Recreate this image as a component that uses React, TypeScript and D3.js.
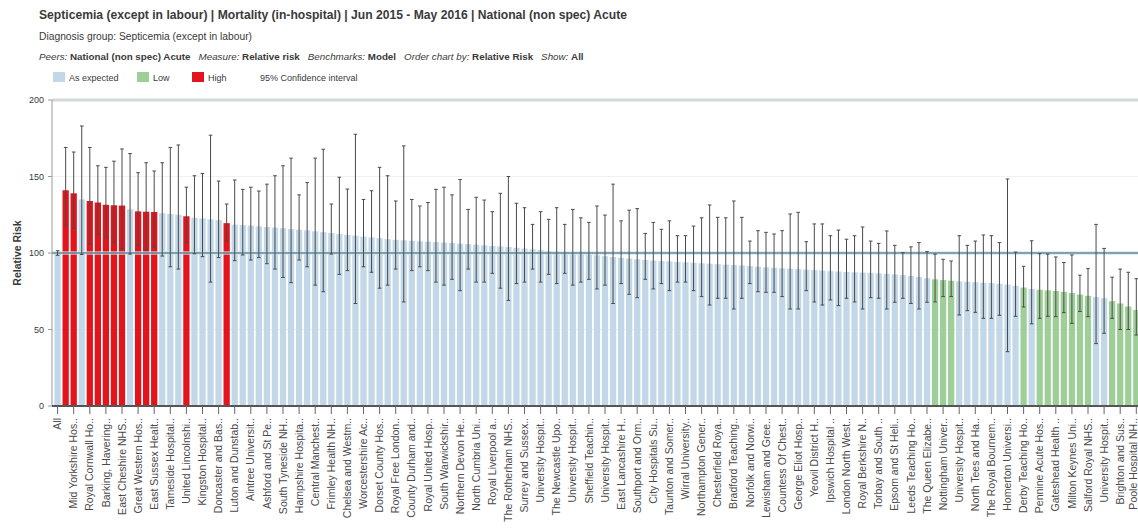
import React from 'react';
import * as d3 from 'd3';

const W = 1138;
const H = 529;

const titleText = 'Septicemia (except in labour) | Mortality (in-hospital) | Jun 2015 - May 2016 | National (non spec) Acute';
const subtitleText = 'Diagnosis group: Septicemia (except in labour)';
const filterParts: [string, string][] = [
  ['Peers: ', 'National (non spec) Acute'],
  ['Measure: ', 'Relative risk'],
  ['Benchmarks: ', 'Model'],
  ['Order chart by: ', 'Relative Risk'],
  ['Show: ', 'All'],
];
const legendItems = ['As expected', 'Low', 'High'];
const yTicks = [0, 50, 100, 150, 200];

const tickLabels = [
  'All', 'Mid Yorkshire Hos..', 'Royal Cornwall Ho..', 'Barking, Havering..', 'East Cheshire NHS..',
  'Great Western Hos..', 'East Sussex Healt..', 'Tameside Hospital..', 'United Lincolnshi..', 'Kingston Hospital..',
  'Doncaster and Bas..', 'Luton and Dunstab..', 'Aintree Universit..', 'Ashford and St Pe..', 'South Tyneside NH..',
  'Hampshire Hospita..', 'Central Manchest..', 'Frimley Health NH..', 'Chelsea and Westm..', 'Worcestershire Ac..',
  'Dorset County Hos..', 'Royal Free London..', 'County Durham and..', 'Royal United Hosp..', 'South Warwickshir..',
  'Northern Devon He..', 'North Cumbria Uni..', 'Royal Liverpool a..', 'The Rotherham NHS..', 'Surrey and Sussex..',
  'University Hospit..', 'The Newcastle Upo..', 'University Hospit..', 'Sheffield Teachin..', 'University Hospit..',
  'East Lancashire H..', 'Southport and Orm..', 'City Hospitals Su..', 'Taunton and Somer..', 'Wirral University..',
  'Northampton Gener..', 'Chesterfield Roya..', 'Bradford Teaching..', 'Norfolk and Norwi..', 'Lewisham and Gree..',
  'Countess Of Chest..', 'George Eliot Hosp..', 'Yeovil District H..', 'Ipswich Hospital ..', 'London North West..',
  'Royal Berkshire N..', 'Torbay and South ..', 'Epsom and St Heli..', 'Leeds Teaching Ho..', 'The Queen Elizabe..',
  'Nottingham Univer..', 'University Hospit..', 'North Tees and Ha..', 'The Royal Bournem..', 'Homerton Universi..',
  'Derby Teaching Ho..', 'Pennine Acute Hos..', 'Gateshead Health ..', 'Milton Keynes Uni..', 'Salford Royal NHS..',
  'University Hospit..', 'Brighton and Sus..', 'Poole Hospital NH..',
];

const relRisk = [
  100, 141, 139, 135, 134, 133, 131.5, 131.2, 131, 128.5,
  127.2, 127, 126.8, 126, 125.5, 125, 124, 123, 122.6, 122,
  121.5, 119.5, 118.5, 118.2, 117.9, 117.4, 117, 116.6, 116.2, 115.6,
  115.2, 114.8, 114.2, 113.6, 113, 112.4, 111.8, 111.3, 110.7, 110.2,
  109.6, 109, 108.6, 108.3, 108, 107.6, 107.4, 107.1, 106.8, 106.5,
  106.1, 105.8, 105.4, 105, 104.6, 104.3, 103.9, 103.4, 102.9, 102.4,
  101.9, 101.4, 100.9, 100.5, 100.1, 99.6, 99.1, 98.5, 97.9, 97.4,
  96.9, 96.4, 95.9, 95.5, 95.1, 94.8, 94.5, 94.2, 93.9, 93.6,
  93.3, 93, 92.7, 92.4, 92.1, 91.8, 91.4, 91, 90.6, 90.3,
  90, 89.7, 89.4, 89.1, 88.8, 88.5, 88.2, 87.9, 87.6, 87.4,
  87.2, 87, 86.7, 86.4, 86, 85.6, 85, 84.3, 83.5, 82.8,
  82.3, 81.9, 81.5, 81.2, 80.9, 80.6, 80.3, 79.9, 79.4, 78.6,
  77.4, 76.5, 76, 75.6, 75.2, 74.6, 73.8, 72.8, 72, 71.2,
  70.4, 68.5, 67, 65, 62.8,
];

const ciUpper = [
  101.5, 169, 166, 183, 169, 157, 156, 160, 168, 165,
  152.5, 159, 153.6, 159, 169, 170.6, 143, 150.5, 152, 177,
  147, 132, 147.7, 141.6, 143, 140.5, 145, 150.5, 157, 162,
  138, 146, 162, 167.8, 132, 149.5, 141.8, 177.6, 135, 140.7,
  156, 150.5, 134, 170, 135, 130.7, 133, 141.6, 143, 138,
  148, 128.5, 136.4, 134.6, 127, 139, 150, 132.5, 129.6, 118.7,
  127, 122, 129.6, 118.7, 128.5, 123, 120, 130.7, 124.8, 145,
  121, 128, 129, 112.8, 120, 115.5, 121, 111.3, 111.3, 117.6,
  123, 131.4, 123.3, 123, 134, 123.3, 107.8, 114.6, 113.5, 112.4,
  114.6, 125.5, 126.6, 107.4, 119, 119, 111.3, 115, 109, 111.3,
  117, 107.8, 106.3, 114.4, 105, 100.2, 104, 106.8, 100.9, 99.3,
  95.9, 94.8, 111.3, 105, 107.8, 111.8, 111.3, 106.8, 148.4, 100.6,
  91.3, 108, 99.6, 99.3, 97.4, 93.8, 98.7, 85.5, 89.8, 118.7,
  103, 84.2, 89.5, 87.4, 83.2,
];

const ciLower = [
  98.5, 118, 116, 99, 106, 112, 110, 107, 103, 99.3,
  105, 102, 104, 98, 91, 89.5, 107, 99.5, 97.6, 81,
  97, 108, 95, 98.7, 95.4, 97, 93, 89.5, 84, 80.6,
  95.4, 91, 79, 74.7, 99.3, 86, 88.5, 67, 91, 87.4,
  77, 79, 89.5, 68, 88.5, 91, 88.5, 81, 79, 82.8,
  75.4, 89.5, 81, 81, 86.7, 77, 69, 80, 81, 89.5,
  81, 86, 80, 86.7, 79, 81, 82.8, 76.5, 79, 67,
  80, 73, 70.8, 82.8, 76.5, 80, 75.4, 81, 81, 75.4,
  71.5, 66, 70.4, 70.4, 63.4, 70.4, 80, 74.7, 74.3, 74.3,
  71.5, 63.4, 63.4, 75.4, 68, 66, 69.3, 65.6, 70.4, 68,
  63.4, 70.8, 70.4, 63.4, 67.8, 70.4, 67, 63.4, 67.8, 68,
  71.5, 71.5, 59.5, 62.3, 61.2, 57.3, 57.3, 59.3, 35.5, 58.6,
  64.7, 53.7, 57.3, 58.6, 58.4, 61, 54, 61.8, 58.4, 40.8,
  47.5, 57.3, 50, 50, 46.4,
];

const highIdx = [1, 2, 4, 5, 6, 7, 8, 10, 11, 12, 16, 21];
const lowIdx = [109, 110, 111, 120, 122, 123, 124, 125, 126, 127, 128, 131, 132, 133, 134];

const colors = {
  expected: '#c2d7e8',
  low: '#9fcf98',
  high: '#e3141b',
  whisker: '#4a4a4a',
  benchmark: '#5f8b98',
  text: '#3a3a3a',
};

function statusOf(i: number): 'expected' | 'low' | 'high' {
  if (highIdx.includes(i)) return 'high';
  if (lowIdx.includes(i)) return 'low';
  return 'expected';
}

export default function App() {
  const n = relRisk.length;
  const step = 8.05;
  const x0 = 57.6 - step / 2;
  const x = d3
    .scaleBand<number>()
    .domain(d3.range(n))
    .range([x0, x0 + n * step])
    .paddingInner(0.22)
    .paddingOuter(0.11);
  const y = d3.scaleLinear().domain([0, 200]).range([406, 100]);
  const plotLeft = 52;
  const plotRight = W;
  const bw = x.bandwidth();
  const cx = (i: number) => (x(i) as number) + bw / 2;
  const sans = "'Liberation Sans', Arial, sans-serif";

  return (
    <svg
      width={W}
      height={H}
      viewBox={`0 0 ${W} ${H}`}
      style={{ position: 'absolute', left: 0, top: 0, background: '#fff', display: 'block' }}
    >
      <rect x={0} y={0} width={W} height={H} fill="#fff" />
      {/* header */}
      <text x={39} y={19} fontFamily={sans} fontWeight="bold" fontSize={12.5} fill={colors.text}
        textLength={588} lengthAdjust="spacingAndGlyphs">{titleText}</text>
      <text x={39} y={40} fontFamily={sans} fontSize={10} fill={colors.text}
        textLength={213} lengthAdjust="spacingAndGlyphs">{subtitleText}</text>
      <text x={39} y={60} fontFamily={sans} fontSize={9.8} fill={colors.text}>
        {filterParts.map(([k, v], i) => (
          <React.Fragment key={k}>
            <tspan fontStyle="italic" dx={i === 0 ? 0 : 8}>{k}</tspan>
            <tspan fontWeight="bold">{v}</tspan>
          </React.Fragment>
        ))}
      </text>
      {/* legend */}
      {legendItems.map((lab, i) => {
        const lx = [53, 137, 192][i];
        const c = [colors.expected, colors.low, colors.high][i];
        return (
          <g key={lab}>
            <rect x={lx} y={72} width={12} height={10} fill={c} />
            <text x={lx + 16} y={81} fontFamily={sans} fontSize={9} fill={colors.text}>{lab}</text>
          </g>
        );
      })}
      <text x={260} y={81} fontFamily={sans} fontSize={9} fill={colors.text}>95% Confidence interval</text>

      {/* grid */}
      <line x1={plotLeft} x2={plotRight} y1={y(200)} y2={y(200)} stroke="#d3d8dc" strokeWidth={3} />
      {[50, 150].map((t) => (
        <line key={t} x1={plotLeft} x2={plotRight} y1={y(t)} y2={y(t)} stroke="#f1f1f1" strokeWidth={1} />
      ))}

      {/* bars */}
      {relRisk.map((v, i) => (
        <rect key={i} x={x(i)} y={y(v)} width={bw} height={y(0) - y(v)} fill={colors[statusOf(i)]} />
      ))}

      {/* benchmark line */}
      <line x1={plotLeft} x2={plotRight} y1={y(100)} y2={y(100)} stroke="#cfe2ea" strokeWidth={4} opacity={0.6} />
      <line x1={plotLeft} x2={plotRight} y1={y(100)} y2={y(100)} stroke={colors.benchmark} strokeWidth={1.3} />

      {/* whiskers */}
      {relRisk.map((_, i) => {
        const c = cx(i);
        return (
          <g key={i} stroke={colors.whisker} strokeWidth={1}>
            <line x1={c} x2={c} y1={y(ciUpper[i])} y2={y(ciLower[i])} />
            <line x1={c - 1.8} x2={c + 1.8} y1={y(ciUpper[i])} y2={y(ciUpper[i])} />
            <line x1={c - 1.8} x2={c + 1.8} y1={y(ciLower[i])} y2={y(ciLower[i])} />
          </g>
        );
      })}

      {/* y axis */}
      <line x1={plotLeft} x2={plotLeft} y1={y(200)} y2={y(0)} stroke="#9a9a9a" strokeWidth={1} />
      {yTicks.map((t) => (
        <g key={t}>
          <line x1={plotLeft - 4} x2={plotLeft} y1={y(t)} y2={y(t)} stroke="#9a9a9a" />
          <text x={plotLeft - 8} y={y(t)} dy="0.35em" textAnchor="end" fontFamily={sans} fontSize={9}
            fill={colors.text}>{t}</text>
        </g>
      ))}
      <text transform={`translate(17,${y(100)}) rotate(-90)`} textAnchor="middle" fontFamily={sans}
        fontWeight="bold" fontSize={10.5} fill={colors.text} dy="0.35em">Relative Risk</text>

      {/* x axis */}
      <line x1={plotLeft} x2={plotRight} y1={y(0)} y2={y(0)} stroke="#555" strokeWidth={2} />
      {tickLabels.map((lab, k) => {
        const c = cx(k * 2);
        const tx = Math.min(c, W - 5);
        return (
          <g key={k}>
            <line x1={c} x2={c} y1={y(0)} y2={y(0) + 8} stroke="#666" strokeWidth={1} />
            <text transform={`translate(${tx},${y(0) + 12}) rotate(-90)`} textAnchor="end" dy="0.35em"
              fontFamily={sans} fontSize={10.5} fill="#4a4a4a">{lab}</text>
          </g>
        );
      })}
    </svg>
  );
}
